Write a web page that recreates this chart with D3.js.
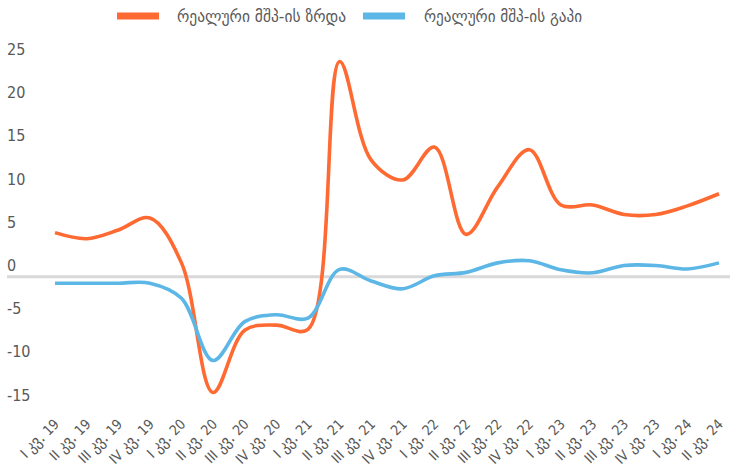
<!DOCTYPE html>
<html>
<head>
<meta charset="utf-8">
<script src="https://cdn.jsdelivr.net/npm/d3@7"></script>
<style>
  html, body { margin: 0; padding: 0; background: #fff; }
  svg { display: block; }
</style>
</head>
<body>
<svg id="chart" width="730" height="472"></svg>
<script>
const categories = [
  "I კვ. 19","II კვ. 19","III კვ. 19","IV კვ. 19",
  "I კვ. 20","II კვ. 20","III კვ. 20","IV კვ. 20",
  "I კვ. 21","II კვ. 21","III კვ. 21","IV კვ. 21",
  "I კვ. 22","II კვ. 22","III კვ. 22","IV კვ. 22",
  "I კვ. 23","II კვ. 23","III კვ. 23","IV კვ. 23",
  "I კვ. 24","II კვ. 24"
];
const growth = [5.1, 4.4, 5.4, 6.8, 1.6, -13.4, -6.2, -5.6, -6.1, 24.9, 13.5, 11.2,
                15.0, 4.9, 10.4, 14.7, 8.3, 8.3, 7.2, 7.2, 8.2, 9.6];
const gap = [-0.75, -0.75, -0.75, -0.75, -2.5, -9.7, -5.2, -4.4, -4.8, 0.85, -0.5, -1.4,
             0.1, 0.5, 1.6, 1.85, 0.8, 0.45, 1.3, 1.3, 0.9, 1.6];
const yTicks = [-15, -10, -5, 0, 5, 10, 15, 20, 25];
const seriesNames = ["რეალური მშპ-ის ზრდა", "რეალური მშპ-ის გაპი"];
const seriesColors = ["#FF6A33", "#5CB7E6"];

const svg = d3.select("#chart");
const numFont = "'Liberation Sans Narrow', 'DejaVu Sans Condensed', sans-serif";
const geoFont = "'DejaVu Sans Condensed', 'DejaVu Sans', sans-serif";

const x = d3.scalePoint().domain(categories).range([55, 719]);
const y = d3.scaleLinear().domain([-15, 25]).range([406.3, 60.7]);

// y tick labels
svg.append("g").selectAll("text").data(yTicks).join("text")
  .attr("x", 7)
  .attr("y", d => y(d) - 11.3)
  .attr("dominant-baseline", "central")
  .attr("font-family", numFont)
  .attr("font-size", 16)
  .attr("fill", "#595959")
  .text(d => d);

// category axis line at zero
svg.append("line")
  .attr("x1", 7).attr("x2", 730)
  .attr("y1", y(0)).attr("y2", y(0))
  .attr("stroke", "#D9D9D9").attr("stroke-width", 3);

// x labels
const xl = svg.append("g").selectAll("text").data(categories).join("text")
  .attr("transform", d => `translate(${x(d) + 5},${425}) rotate(-45)`)
  .attr("text-anchor", "end")
  .attr("font-family", numFont)
  .attr("font-size", 14)
  .attr("fill", "#595959");
xl.each(function(d) {
  const parts = d.split(" ");
  const t = d3.select(this);
  t.append("tspan").text(parts[0] + " ");
  t.append("tspan").attr("font-family", geoFont).attr("font-size", 16.5).text(parts[1]);
  t.append("tspan").text(" " + parts[2]);
});

// lines
const line = d3.line()
  .x((d, i) => x(categories[i]))
  .y(d => y(d))
  .curve(d3.curveCatmullRom.alpha(0.5));

svg.append("path").datum(growth)
  .attr("d", line)
  .attr("fill", "none")
  .attr("stroke", seriesColors[0])
  .attr("stroke-width", 3.6)
  .attr("stroke-linejoin", "round");

svg.append("path").datum(gap)
  .attr("d", line)
  .attr("fill", "none")
  .attr("stroke", seriesColors[1])
  .attr("stroke-width", 3.6)
  .attr("stroke-linejoin", "round");

// legend
const legendItems = [
  { name: seriesNames[0], color: seriesColors[0], sx: 117, tx: 177, tw: 169 },
  { name: seriesNames[1], color: seriesColors[1], sx: 363, tx: 424, tw: 158 }
];
const lg = svg.append("g");
legendItems.forEach(it => {
  lg.append("line")
    .attr("x1", it.sx).attr("x2", it.sx + 42)
    .attr("y1", 16).attr("y2", 16)
    .attr("stroke", it.color).attr("stroke-width", 7);
  lg.append("text")
    .attr("x", it.tx).attr("y", 16)
    .attr("dominant-baseline", "central")
    .attr("font-family", geoFont)
    .attr("font-size", 16)
    .attr("fill", "#595959")
    .attr("textLength", it.tw)
    .attr("lengthAdjust", "spacingAndGlyphs")
    .text(it.name);
});
</script>
</body>
</html>
